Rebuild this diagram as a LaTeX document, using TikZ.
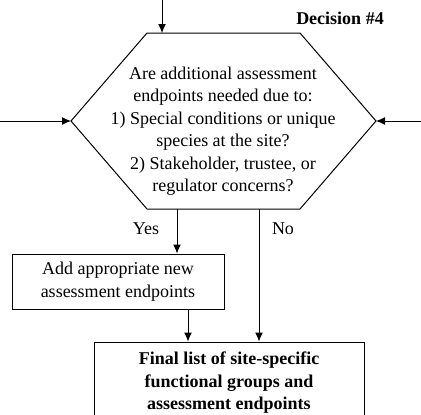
\documentclass[tikz,border=0pt]{standalone}
\usepackage{fontspec}
\setmainfont{Liberation Serif}
\usetikzlibrary{arrows.meta}
\tikzset{
	flow/.style={line width=1pt,-{Latex[length=9pt,width=8pt]}},
	txt/.style={align=center,inner sep=0pt,font=\fontsize{18}{22.5}\selectfont},
	box/.style={txt,draw,line width=1pt},
}
\begin{document}
\begin{tikzpicture}[x=1pt,y=-1pt]
	\useasboundingbox (0,0) rectangle (421,415);
		% decision hexagon
		\coordinate (hexTL) at (147,33);
		\coordinate (hexTR) at (300,33);
		\coordinate (hexR) at (376,121);
		\coordinate (hexBR) at (300,209);
		\coordinate (hexBL) at (147,209);
		\coordinate (hexL) at (71,121);
		\draw[line width=1pt] (hexTL) -- (hexTR) -- (hexR) -- (hexBR) -- (hexBL) -- (hexL) -- cycle;
		\node[txt] (question) at (223,131) {Are additional assessment\\endpoints needed due to:\\1) Special conditions or unique\\species at the site?\\2) Stakeholder, trustee, or\\regulator concerns?};
		\node[txt,font=\fontsize{18}{22.5}\selectfont\bfseries] (decision) at (340,18) {Decision \#4};
		% incoming flows
		\coordinate (fromTop) at (162,0);
		\coordinate (hexTop) at (162,33);
		\draw[flow] (fromTop) to (hexTop);
		\coordinate (fromLeft) at (0,121);
		\draw[flow] (fromLeft) to (hexL);
		\coordinate (fromRight) at (421,121);
		\draw[flow] (fromRight) to (hexR);
		% boxes
		\node[box,minimum width=212pt,minimum height=55pt] (addEnd) at (118,281.5) {Add appropriate new\\assessment endpoints};
		\node[box,font=\fontsize{18}{22.5}\selectfont\bfseries,minimum width=270pt,minimum height=82pt] (final) at (229,383) {Final list of site-specific\\functional groups and\\assessment endpoints};
		% outgoing flows
		\coordinate (yesOut) at (177,209);
		\draw[flow] (yesOut) to (yesOut |- addEnd.north);
		\node[txt] (yes) at (146,229) {Yes};
		\coordinate (noOut) at (259,209);
		\draw[flow] (noOut) to (noOut |- final.north);
		\node[txt] (no) at (283,229) {No};
		\coordinate (addOut) at (188,309);
		\draw[flow] (addOut) to (addOut |- final.north);
	\end{tikzpicture}
\end{document}
